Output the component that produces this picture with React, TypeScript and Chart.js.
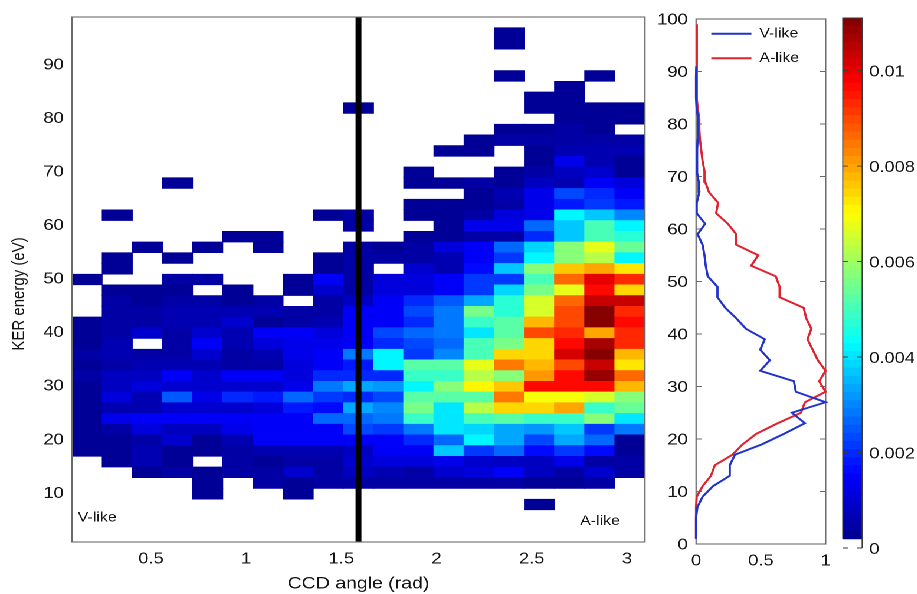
import React, { useEffect, useRef } from "react";
import { Chart, registerables } from "chart.js";

Chart.register(...registerables);

const S = 1.18; // the reference is stretched horizontally
const FONT = "'Liberation Sans', Arial, sans-serif";
const INK = "#151515";
const FRAME = "#6a6a6a";

const _ = null;
const colCount = 19;
const columns = Array.from({ length: colCount }, (_v, i) => String(i));
const angleTicks = [0.5, 1, 1.5, 2, 2.5, 3];
const kerTicks = [10, 20, 30, 40, 50, 60, 70, 80, 90];
const profileTicks = [0, 10, 20, 30, 40, 50, 60, 70, 80, 90, 100];
const shareTicks = [0, 0.5, 1];
const barTicks = [0, 0.002, 0.004, 0.006, 0.008, 0.01];
const separatorAngle = 1.59;
const notes: [string, number, number][] = [
  ["V-like", 0.115, 5],
  ["A-like", 2.754, 4.4],
];
const kerTitle = "KER energy (eV)";
const kerTitleCentre = 46.8;

// density x 1e-4; rows of 2 eV from the bottom (first row spans 0.5-2.5 eV)
const heat: (number | null)[][] = [
  [_, _, _, _, _, _, _, _, _, _, _, _, _, _, _, _, _, _, _],
  [_, _, _, _, _, _, _, _, _, _, _, _, _, _, _, _, _, _, _],
  [_, _, _, _, _, _, _, _, _, _, _, _, _, _, _, _, _, _, _],
  [_, _, _, _, _, _, _, _, _, _, _, _, _, _, _, 3, _, _, _],
  [_, _, _, _, 3, _, _, 3, _, _, _, _, _, _, _, _, _, _, _],
  [_, _, _, _, 3, _, 5, 3, 4, 5, 4, 4, 4, 4, 4, 3, 3, 5, _],
  [_, _, 3, 4, 3, 4, 4, 10, 4, 8, 7, 5, 9, 12, 14, 8, 5, 9, 4],
  [_, 3, 7, 3, _, 4, 3, 5, 5, 9, 12, 12, 13, 9, 8, 8, 13, 4, 4],
  [3, 3, 7, 3, 3, 4, 6, 6, 6, 8, 14, 14, 36, 22, 26, 17, 22, 17, 3],
  [3, 3, 5, 9, 3, 6, 14, 14, 14, 15, 14, 19, 27, 42, 34, 24, 33, 27, 3],
  [3, 5, 11, 8, 8, 13, 15, 15, 15, 24, 22, 28, 40, 38, 33, 32, 36, 21, 28],
  [3, 13, 15, 15, 14, 15, 15, 15, 27, 26, 29, 48, 40, 50, 52, 48, 48, 57, 40],
  [3, 7, 7, 9, 9, 9, 12, 18, 17, 34, 30, 55, 40, 63, 75, 75, 80, 48, 54],
  [3, 11, 7, 25, 13, 19, 18, 26, 22, 20, 24, 53, 52, 53, 84, 70, 70, 65, 58],
  [3, 8, 11, 10, 10, 10, 9, 13, 28, 33, 32, 42, 58, 71, 76, 97, 97, 97, 78],
  [4, 8, 8, 15, 9, 14, 14, 12, 20, 20, 20, 48, 48, 63, 58, 81, 97, 108, 86],
  [3, 5, 7, 6, 7, 4, 5, 12, 14, 18, 42, 53, 53, 68, 84, 77, 90, 104, 72],
  [4, 6, 4, 5, 9, 5, 6, 13, 14, 28, 42, 22, 30, 50, 75, 75, 102, 110, 77],
  [3, 7, _, 5, 14, 6, 11, 13, 13, 15, 19, 24, 27, 50, 56, 75, 97, 107, 93],
  [3, 5, 9, 5, 9, 6, 14, 14, 12, 15, 23, 27, 28, 40, 53, 89, 93, 80, 93],
  [3, 5, 4, 7, 7, 9, 3, 5, 7, 15, 15, 20, 28, 48, 53, 77, 90, 111, 97],
  [_, 5, 5, 7, 7, 7, 6, 4, 4, 15, 15, 24, 28, 55, 47, 66, 90, 111, 93],
  [_, 4, 3, 4, 4, 3, 5, _, 4, 8, 15, 19, 25, 33, 47, 66, 86, 104, 104],
  [_, 3, 3, 3, _, 3, _, 3, 9, 5, 12, 12, 14, 21, 38, 56, 68, 97, 74],
  [3, _, _, 5, 4, _, _, 3, 15, 5, 12, 12, 15, 22, 22, 50, 86, 100, 93],
  [_, 3, _, _, _, _, _, _, 3, 4, _, 10, 7, 17, 36, 57, 76, 80, 73],
  [_, 3, _, 3, _, _, _, _, 3, 4, 5, 5, 7, 15, 22, 42, 57, 62, 42],
  [_, _, 3, _, 3, _, 3, _, _, 4, 3, 5, 12, 14, 27, 38, 57, 68, 54],
  [_, _, _, _, _, 3, 3, _, _, _, _, 3, 3, 5, 5, 19, 37, 50, 47],
  [_, _, _, _, _, _, _, _, _, 4, _, _, 3, 13, 13, 26, 37, 50, 42],
  [_, 3, _, _, _, _, _, _, 3, 5, _, 3, 3, 5, 12, 13, 42, 36, 30],
  [_, _, _, _, _, _, _, _, _, _, _, 3, 3, 3, 5, 13, 18, 21, 18],
  [_, _, _, _, _, _, _, _, _, _, _, _, _, 3, 7, 13, 24, 19, 14],
  [_, _, _, 3, _, _, _, _, _, _, _, 3, 3, 4, 3, 8, 7, 14, 11],
  [_, _, _, _, _, _, _, _, _, _, _, 3, _, _, 3, 5, 8, 9, 3],
  [_, _, _, _, _, _, _, _, _, _, _, _, _, _, _, 3, 13, 6, 3],
  [_, _, _, _, _, _, _, _, _, _, _, _, 3, 3, _, 3, 7, 6, 7],
  [_, _, _, _, _, _, _, _, _, _, _, _, _, 3, 4, 4, 5, 4, 5],
  [_, _, _, _, _, _, _, _, _, _, _, _, _, _, 3, 3, 4, 2, _],
  [_, _, _, _, _, _, _, _, _, _, _, _, _, _, _, _, 3, 3, 3],
  [_, _, _, _, _, _, _, _, _, 3, _, _, _, _, _, 3, 3, 3, 3],
  [_, _, _, _, _, _, _, _, _, _, _, _, _, _, _, 3, 3, _, _],
  [_, _, _, _, _, _, _, _, _, _, _, _, _, _, _, _, 3, _, _],
  [_, _, _, _, _, _, _, _, _, _, _, _, _, _, 3, _, _, 3, _],
  [_, _, _, _, _, _, _, _, _, _, _, _, _, _, _, _, _, _, _],
  [_, _, _, _, _, _, _, _, _, _, _, _, _, _, _, _, _, _, _],
  [_, _, _, _, _, _, _, _, _, _, _, _, _, _, 3, _, _, _, _],
  [_, _, _, _, _, _, _, _, _, _, _, _, _, _, 3, _, _, _, _],
  [_, _, _, _, _, _, _, _, _, _, _, _, _, _, _, _, _, _, _],
];

const energies = [1, 3, 5, 7, 9, 11, 13, 15, 17, 19, 21, 23, 25, 27, 29, 31, 33, 35, 37, 39, 41, 43, 45, 47, 49, 51, 53, 55, 57, 59, 61, 63, 65, 67, 69, 71, 73, 75, 77, 79, 81, 83, 85, 87, 89, 91];
const vLike = [0, 0, 0, 0.01, 0.05, 0.13, 0.26, 0.26, 0.3, 0.51, 0.68, 0.84, 0.74, 1, 0.77, 0.755, 0.495, 0.57, 0.495, 0.53, 0.385, 0.31, 0.225, 0.165, 0.165, 0.09, 0.075, 0.065, 0.05, 0.012, 0.07, 0.005, 0.005, 0.025, 0.02, 0.006, 0.006, 0.01, 0.012, 0.015, 0.018, 0.005, 0, 0, 0, 0.002];
const energiesA = [1, 3, 5, 7, 9, 11, 13, 15, 17, 19, 21, 23, 25, 27, 29, 31, 33, 35, 37, 39, 41, 43, 45, 47, 49, 51, 53, 55, 57, 59, 61, 63, 65, 67, 69, 71, 73, 75, 77, 79, 81, 83, 85, 87, 89, 91, 93, 95, 97, 99];
const aLike = [0, 0, 0, 0, 0.005, 0.05, 0.115, 0.145, 0.28, 0.36, 0.465, 0.63, 0.81, 0.84, 1, 0.95, 1, 0.94, 0.9, 0.86, 0.89, 0.85, 0.83, 0.645, 0.645, 0.615, 0.425, 0.48, 0.31, 0.31, 0.245, 0.155, 0.17, 0.1, 0.07, 0.065, 0.05, 0.04, 0.03, 0.025, 0.025, 0.012, 0.005, 0.01, 0.01, 0.01, 0.002, 0.002, 0.005, 0.002];

const barMin = 0.00019;
const barMax = 0.0111;
const levels = 64;

function lerp(t: number, a: number, b: number, u: number, v: number) {
  return u + ((t - a) / (b - a)) * (v - u);
}
function jet(t: number) {
  const q = Math.max(0, Math.min(1, t));
  const ramp = (x: number) => {
    if (x < 0.125) return 0;
    if (x < 0.375) return lerp(x, 0.125, 0.375, 0, 1);
    if (x < 0.625) return 1;
    if (x < 0.875) return lerp(x, 0.625, 0.875, 1, 0);
    return 0;
  };
  const r = q >= 0.875 ? lerp(q, 0.875, 1, 1, 0.5) : ramp(q - 0.25);
  const g = ramp(q);
  const b = q <= 0.125 ? lerp(q, 0, 0.125, 0.56, 1) : ramp(q + 0.25);
  return `rgb(${Math.round(r * 255)},${Math.round(g * 255)},${Math.round(b * 255)})`;
}
function colourOf(v: number) {
  const t = (v - barMin) / (barMax - barMin);
  const step = Math.min(levels - 1, Math.floor(t * levels));
  return jet((step + 0.5) / levels);
}

const tickFont = { family: FONT, size: 15.5 };

function fixedX(h: number) {
  return (s: any) => {
    s.height = h;
  };
}
function fixedY(w: number) {
  return (s: any) => {
    s.width = w;
  };
}
function setTicks(list: number[]) {
  return (s: any) => {
    s.ticks = list.map((value) => ({ value }));
  };
}

const heatFrame = {
  id: "heatFrame",
  afterDatasetsDraw(c: any) {
    const { left, right, top, bottom } = c.chartArea;
    const g = c.ctx;
    g.save();
    g.strokeStyle = FRAME;
    g.lineWidth = 1.1;
    g.strokeRect(left, top, right - left, bottom - top);
    g.fillStyle = INK;
    g.font = `13.5px ${FONT}`;
    g.textAlign = "left";
    g.textBaseline = "middle";
    notes.forEach(([text, x, y]) => {
      g.fillText(text, c.scales.xAngle.getPixelForValue(x), c.scales.y.getPixelForValue(y));
    });
    g.translate(19.5 / S, c.scales.y.getPixelForValue(kerTitleCentre));
    g.rotate(-Math.PI / 2);
    g.font = `15px ${FONT}`;
    g.textAlign = "center";
    g.fillText(kerTitle, 0, 0);
    g.restore();
  },
};

const profileFrame = {
  id: "profileFrame",
  beforeDraw(c: any) {
    c.legend.top = 16;
    c.legend.left = c.chartArea.left + 1.9;
  },
  beforeDatasetsDraw(c: any) {
    const { left, right, top, bottom } = c.chartArea;
    const g = c.ctx;
    g.save();
    g.strokeStyle = FRAME;
    g.lineWidth = 1.1;
    g.strokeRect(left, top, right - left, bottom - top);
    profileTicks.forEach((v) => {
      const y = c.scales.y.getPixelForValue(v);
      g.beginPath();
      g.moveTo(left, y);
      g.lineTo(left + 5, y);
      g.moveTo(right, y);
      g.lineTo(right - 5, y);
      g.stroke();
    });
    g.restore();
  },
};

const barFrame = {
  id: "barFrame",
  afterDraw(c: any) {
    const { left, right, top, bottom } = c.chartArea;
    const g = c.ctx;
    const lowest = c.scales.y.getPixelForValue(barMin);
    g.save();
    g.strokeStyle = "#3a3a3a";
    g.lineWidth = 0.9;
    g.beginPath();
    g.moveTo(left, lowest);
    g.lineTo(left, top);
    g.lineTo(right, top);
    g.lineTo(right, bottom);
    g.stroke();
    barTicks.forEach((v) => {
      const y = c.scales.y.getPixelForValue(v);
      g.beginPath();
      g.moveTo(left, y);
      g.lineTo(left + 4.5, y);
      g.moveTo(right, y);
      g.lineTo(right - 4.5, y);
      g.stroke();
    });
    g.restore();
  },
};

export default function App() {
  const heatRef = useRef<HTMLCanvasElement>(null);
  const profileRef = useRef<HTMLCanvasElement>(null);
  const barRef = useRef<HTMLCanvasElement>(null);

  useEffect(() => {
    const heatSets: any[] = heat.map((row, r) => ({
      type: "bar",
      label: `row ${r}`,
      xAxisID: "x",
      yAxisID: "y",
      order: 2,
      grouped: false,
      categoryPercentage: 1,
      barPercentage: 1,
      borderWidth: 0,
      data: row.map((v) => (v === null ? null : [0.5 + 2 * r, 2.5 + 2 * r])),
      backgroundColor: row.map((v) => (v === null ? "transparent" : colourOf(v * 1e-4))),
    }));
    heatSets.push({
      type: "line",
      label: "separator",
      xAxisID: "xAngle",
      yAxisID: "y",
      order: 0,
      data: [
        { x: separatorAngle, y: 0.5 },
        { x: separatorAngle, y: 98.5 },
      ],
      borderColor: "#000",
      borderWidth: 5,
      pointRadius: 0,
    });

    const heatChart = new Chart(heatRef.current!, {
      data: { labels: columns, datasets: heatSets },
      plugins: [heatFrame],
      options: {
        responsive: false,
        animation: false,
        devicePixelRatio: 2,
        events: [],
        layout: { padding: { top: 17, right: 4.4, left: 0, bottom: 0 } },
        plugins: { legend: { display: false }, tooltip: { enabled: false } },
        scales: {
          x: { type: "category", display: false, stacked: false, offset: true },
          xAngle: {
            type: "linear",
            position: "bottom",
            min: 0.085,
            max: 3.095,
            grid: { display: false, drawTicks: false },
            border: { display: false },
            afterBuildTicks: setTicks(angleTicks),
            afterFit: fixedX(52),
            ticks: { font: tickFont, color: INK, padding: 8, maxRotation: 0, autoSkip: false, callback: (v: any) => String(v) },
            title: { display: true, text: "CCD angle (rad)", font: { family: FONT, size: 16.5 }, color: INK, padding: { top: 9, bottom: 0 } },
          },
          y: {
            type: "linear",
            min: 0.5,
            max: 98.5,
            grid: { display: false, drawTicks: false },
            border: { display: false },
            afterBuildTicks: setTicks(kerTicks),
            afterFit: fixedY(72 / S),
            ticks: { font: tickFont, color: INK, padding: 7, labelOffset: 2.5, callback: (v: any) => String(v) },
          },
        },
      } as any,
    });

    const profileChart = new Chart(profileRef.current!, {
      type: "line",
      data: {
        datasets: [
          {
            label: "V-like",
            data: vLike.map((x, i) => ({ x, y: energies[i] })),
            borderColor: "#2233cc",
            backgroundColor: "#2233cc",
            borderWidth: 1.9,
            pointRadius: 0,
            pointStyle: "line",
            clip: 4,
          },
          {
            label: "A-like",
            data: aLike.map((x, i) => ({ x, y: energiesA[i] })),
            borderColor: "#e0232d",
            backgroundColor: "#e0232d",
            borderWidth: 1.9,
            pointRadius: 0,
            pointStyle: "line",
            clip: 4,
          },
        ],
      },
      plugins: [profileFrame],
      options: {
        responsive: false,
        animation: false,
        devicePixelRatio: 2,
        events: [],
        layout: { padding: { top: 19, right: (840 - 826) / S, left: 0, bottom: 0 } },
        plugins: {
          tooltip: { enabled: false },
          legend: {
            position: "chartArea",
            align: "start",
            labels: {
              usePointStyle: true,
              pointStyle: "line",
              pointStyleWidth: 34,
              boxHeight: 1.9,
              padding: 11,
              font: { family: FONT, size: 13.5 },
              color: INK,
            },
          },
        },
        scales: {
          x: {
            type: "linear",
            min: 0,
            max: 1,
            grid: { display: false, drawTicks: false },
            border: { display: false },
            afterBuildTicks: setTicks(shareTicks),
            afterFit: fixedX(50),
            ticks: { font: tickFont, color: INK, padding: 8, maxRotation: 0, callback: (v: any) => String(v) },
          },
          y: {
            type: "linear",
            min: 0,
            max: 100,
            grid: { display: false, drawTicks: false },
            border: { display: false },
            afterBuildTicks: setTicks(profileTicks),
            afterFit: fixedY((696.5 - 640) / S),
            ticks: { font: tickFont, color: INK, padding: 7, labelOffset: 1, callback: (v: any) => String(v) },
          },
        },
      } as any,
    });

    const step = (barMax - barMin) / levels;
    const barSets = Array.from({ length: levels }, (_v, i) => ({
      label: `level ${i}`,
      grouped: false,
      categoryPercentage: 1,
      barPercentage: 1,
      borderWidth: 0,
      data: [[barMin + i * step, barMin + (i + 1) * step]],
      backgroundColor: jet((i + 0.5) / levels),
    }));

    const barChart = new Chart(barRef.current!, {
      type: "bar",
      data: { labels: ["scale"], datasets: barSets as any },
      plugins: [barFrame],
      options: {
        responsive: false,
        animation: false,
        devicePixelRatio: 2,
        events: [],
        layout: { padding: { top: 18, left: (842.3 - 835) / S, right: 0, bottom: 46 } },
        plugins: { legend: { display: false }, tooltip: { enabled: false } },
        scales: {
          x: { type: "category", display: false, offset: true },
          y: {
            type: "linear",
            position: "right",
            min: 0,
            max: barMax,
            grid: { display: false, drawTicks: false },
            border: { display: false },
            afterBuildTicks: setTicks(barTicks),
            afterFit: fixedY(70 - (861.7 - 835) / S),
            ticks: { font: tickFont, color: INK, padding: 6, labelOffset: 1.5, callback: (v: any) => String(v) },
          },
        },
      } as any,
    });

    return () => {
      heatChart.destroy();
      profileChart.destroy();
      barChart.destroy();
    };
  }, []);

  const canvasStyle = (left: number): React.CSSProperties => ({ position: "absolute", left, top: 0, display: "block" });

  return (
    <div
      style={{
        position: "absolute",
        left: 0,
        top: 0,
        width: 917 / S,
        height: 594,
        background: "#fff",
        transform: `scaleX(${S})`,
        transformOrigin: "0 0",
      }}
    >
      <canvas ref={heatRef} width={551} height={594} style={canvasStyle(0)} />
      <canvas ref={profileRef} width={170} height={594} style={canvasStyle(640 / S)} />
      <canvas ref={barRef} width={70} height={594} style={canvasStyle(835 / S)} />
    </div>
  );
}
